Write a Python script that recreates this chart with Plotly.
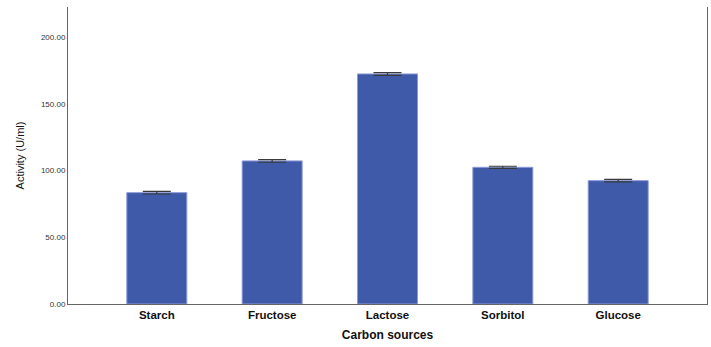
import plotly.graph_objects as go

# Carbon source screening: enzyme activity (U/ml), mean ± error
categories = ["Starch", "Fructose", "Lactose", "Sorbitol", "Glucose"]
activity = [83.5, 107.3, 172.5, 102.5, 92.5]
errors = [1.0, 1.0, 1.0, 0.8, 1.0]
y_ticks = [0, 50, 100, 150, 200]
y_tick_labels = ["0.00", "50.00", "100.00", "150.00", "200.00"]

fig = go.Figure()
fig.add_trace(go.Bar(
    x=categories,
    y=activity,
    width=0.52,
    marker=dict(color="#3F5AA8", line=dict(color="#8C9BD6", width=1)),
    error_y=dict(type="data", array=errors, visible=True,
                 color="#3a3a3a", thickness=1.2, width=14),
))

font_family = "Liberation Sans, Arial, sans-serif"
fig.update_layout(
    width=711, height=347,
    margin=dict(l=68, r=4, t=7, b=43),
    paper_bgcolor="white",
    plot_bgcolor="white",
    showlegend=False,
    font=dict(family=font_family, color="#222"),
    xaxis=dict(
        range=[-0.77, 4.77],
        showgrid=False,
        showline=True, linecolor="#666", linewidth=1,
        ticks="",
        tickfont=dict(size=11.5, weight="bold", color="#111"),
        title=dict(text="Carbon sources", font=dict(size=12, weight="bold", color="#111"), standoff=10),
    ),
    yaxis=dict(
        range=[0, 222.7],
        tickvals=y_ticks, ticktext=y_tick_labels,
        showgrid=False, zeroline=False,
        showline=True, linecolor="#666", linewidth=1, mirror=True,
        ticks="",
        tickfont=dict(size=8, color="#333"),
        title=dict(text="Activity (U/ml)", font=dict(size=11, color="#111"), standoff=14),
    ),
)

fig.write_html("out.html")
